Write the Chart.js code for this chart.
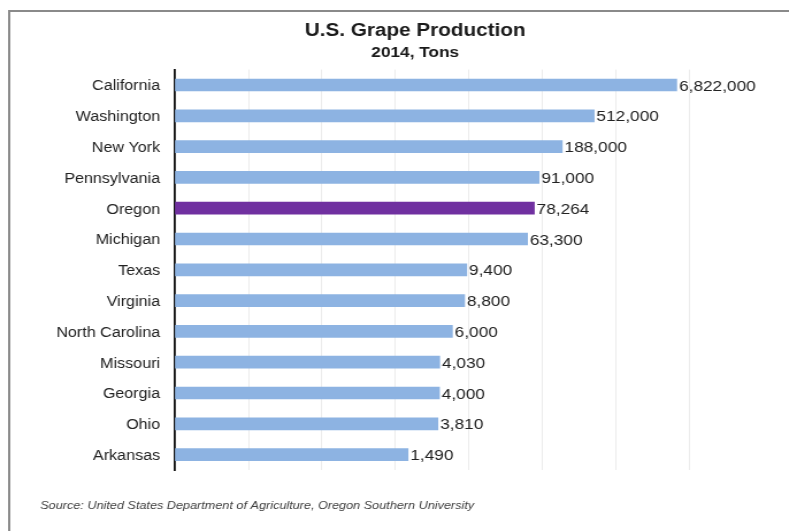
<!DOCTYPE html>
<html><head><meta charset="utf-8">
<script src="https://cdn.jsdelivr.net/npm/chart.js@4"></script>
<style>
html,body{margin:0;padding:0;background:#fff;overflow:hidden;}
#wrap{width:686px;height:531px;transform:scaleX(1.1501);transform-origin:0 0;}
canvas{display:block;}
</style></head><body>
<div id="wrap"><canvas id="c" width="686" height="531"></canvas></div>
<script>
const chartTitle = 'U.S. Grape Production';
const chartSubtitle = '2014, Tons';
const sourceNote = 'Source: United States Department of Agriculture, Oregon Southern University';
const states = ['California','Washington','New York','Pennsylvania','Oregon','Michigan','Texas','Virginia','North Carolina','Missouri','Georgia','Ohio','Arkansas'];
const tons = [6822000,512000,188000,91000,78264,63300,9400,8800,6000,4030,4000,3810,1490];
const highlighted = 'Oregon';
const gridTicks = [1,10,100,1000,10000,100000,1000000,10000000];

const FONT = "'Liberation Sans', Arial, sans-serif";
const barColors = states.map(s => s === highlighted ? '#7030a0' : '#8db3e2');

const framePlugin = {
  id: 'frame',
  beforeDraw(chart) {
    const ctx = chart.ctx;
    ctx.save();
    ctx.fillStyle = '#fff';
    ctx.fillRect(0, 0, chart.width, chart.height);
    ctx.strokeStyle = '#8a8a8a';
    ctx.lineWidth = 2;
    ctx.beginPath();
    ctx.moveTo(8, chart.height);
    ctx.lineTo(8, 11);
    ctx.lineTo(chart.width, 11);
    ctx.stroke();
    ctx.restore();
  }
};

const valueLabels = {
  id: 'valueLabels',
  afterDatasetsDraw(chart) {
    const ctx = chart.ctx;
    const meta = chart.getDatasetMeta(0);
    ctx.save();
    ctx.font = '15px ' + FONT;
    ctx.fillStyle = '#222';
    ctx.textAlign = 'left';
    ctx.textBaseline = 'middle';
    meta.data.forEach((bar, i) => {
      ctx.fillText(tons[i].toLocaleString('en-US'), bar.x + 2, bar.y + 1.5);
    });
    ctx.restore();
  }
};

const sourcePlugin = {
  id: 'sourceNote',
  afterDraw(chart) {
    const ctx = chart.ctx;
    ctx.save();
    ctx.font = 'italic 11px ' + FONT;
    ctx.fillStyle = '#404040';
    ctx.textAlign = 'left';
    ctx.textBaseline = 'middle';
    ctx.fillText(sourceNote, 35, 506);
    ctx.restore();
  }
};

new Chart(document.getElementById('c'), {
  type: 'bar',
  data: {
    labels: states,
    datasets: [{
      data: tons,
      backgroundColor: barColors,
      borderWidth: 0,
      barThickness: 12
    }]
  },
  options: {
    indexAxis: 'y',
    responsive: false,
    animation: false,
    devicePixelRatio: 1,
    layout: { padding: { left: 36, right: 0, top: 0, bottom: 61 } },
    plugins: {
      legend: { display: false },
      tooltip: { enabled: false },
      title: {
        display: true,
        text: chartTitle,
        color: '#1a1a1a',
        font: { family: FONT, size: 18, weight: 'bold' },
        padding: { top: 20, bottom: 1 }
      },
      subtitle: {
        display: true,
        text: chartSubtitle,
        color: '#1a1a1a',
        font: { family: FONT, size: 15, weight: 'bold' },
        padding: { top: 1, bottom: 8 }
      }
    },
    scales: {
      x: {
        type: 'logarithmic',
        min: 1,
        max: 10000000,
        afterBuildTicks(scale) { scale.ticks = gridTicks.map(v => ({ value: v })); },
        afterFit(scale) { scale.height = 0; },
        ticks: { display: false },
        grid: { color: '#ececec', lineWidth: 1, drawTicks: false },
        border: { display: false }
      },
      y: {
        afterFit(scale) { scale.width = 116.2; },
        ticks: {
          color: '#222',
          font: { family: FONT, size: 14 },
          padding: 13,
          labelOffset: 1.5
        },
        grid: { display: false, drawTicks: false },
        border: { display: true, color: '#111', width: 1.8 }
      },
      yRight: {
        type: 'category',
        position: 'right',
        afterFit(scale) { scale.width = 87; },
        ticks: { display: false },
        grid: { display: false, drawTicks: false },
        border: { display: false }
      }
    }
  },
  plugins: [framePlugin, valueLabels, sourcePlugin]
});
</script>
</body></html>
